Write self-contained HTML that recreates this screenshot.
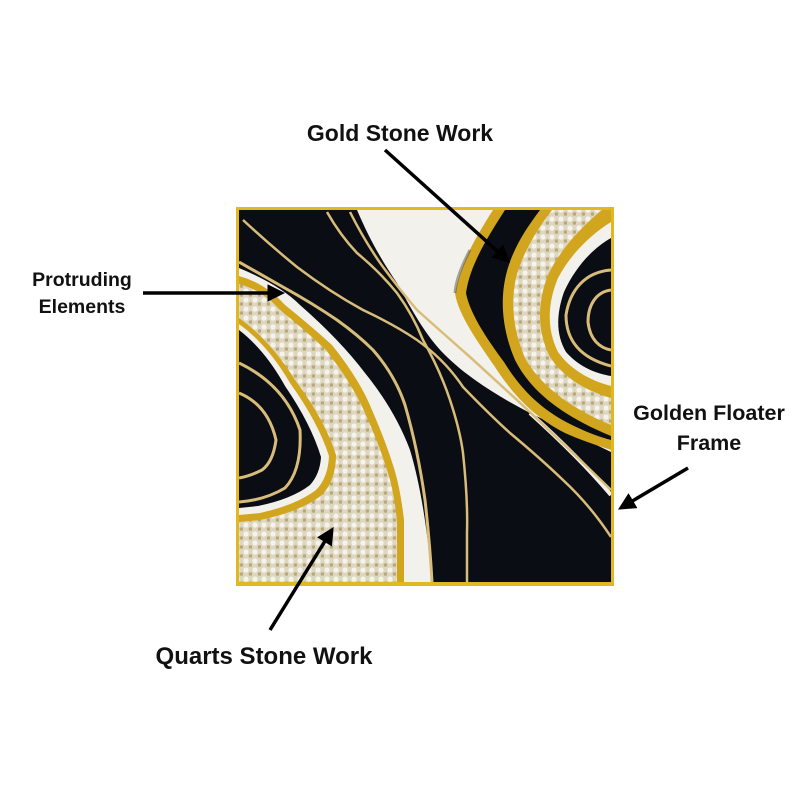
<!DOCTYPE html>
<html><head><meta charset="utf-8"><style>
html,body{margin:0;padding:0;background:#fff;width:800px;height:800px;overflow:hidden}
svg text{font-family:"Liberation Sans",sans-serif;font-weight:bold;fill:#111}
</style></head><body>
<svg width="800" height="800" viewBox="0 0 800 800" xmlns="http://www.w3.org/2000/svg">
<defs>
<marker id="ah" markerWidth="5" markerHeight="5" refX="3" refY="2.5" orient="auto" markerUnits="strokeWidth">
<path d="M0,0 L5,2.5 L0,5 Z" fill="#000"/></marker>
<pattern id="qz" width="9" height="9" patternUnits="userSpaceOnUse">
<rect width="9" height="9" fill="#ddd6c0"/><circle cx="3" cy="3" r="2.6" fill="#f6f3ea"/><circle cx="7.5" cy="7" r="1.8" fill="#b9a878"/></pattern>
<clipPath id="cp"><rect x="239" y="210" width="372" height="372"/></clipPath>
</defs>
<rect x="236" y="207" width="378" height="379" fill="#e0b820"/>
<rect x="239" y="210" width="372" height="372" fill="#0a0d14"/>
<g clip-path="url(#cp)">
<!-- top white stripe -->
<path d="M357,210 C372,245 385,265 397,283 C412,310 425,335 445,355 C465,375 495,395 530,413 L611,452 L611,210 Z" fill="#f3f1ec"/>
<path d="M530,413 C560,440 590,470 611,495" fill="none" stroke="#f3f1ec" stroke-width="4"/>
<!-- right nested bands -->
<path d="M493,210 C475,238 460,265 455,293 C458,315 480,345 495,367 C510,390 530,415 565,433 C585,442 600,446 611,450 L611,210 Z" fill="#d2a51e"/>
<path d="M505,210 C487,238 470,265 466,293 C470,315 490,343 504,362 C518,385 538,408 570,424 C588,433 600,437 611,440 L611,210 Z" fill="#0a0d14"/>
<path d="M540,210 C525,230 512,250 506,275 C500,300 502,330 515,360 C530,390 560,415 611,436 L611,210 Z" fill="#d2a51e"/>
<path d="M552,210 C535,232 522,255 516,278 C510,305 514,332 525,358 C540,385 570,408 611,425 L611,210 Z" fill="url(#qz)"/>
<path d="M602,210 C580,228 560,250 548,275 C538,300 536,330 550,357 C565,380 590,392 611,398 L611,210 Z" fill="#d2a51e"/>
<path d="M611,222 C590,235 570,255 558,278 C548,302 546,328 558,352 C572,372 595,382 611,386 Z" fill="#f3f1ec"/>
<path d="M611,238 C590,250 574,270 564,292 C556,315 556,335 566,352 C580,368 598,374 611,376 Z" fill="#0a0d14"/>
<path d="M611,270 C585,272 570,290 566,315 C566,340 580,358 611,366" fill="none" stroke="#d8bc7a" stroke-width="3"/>
<path d="M611,290 C596,292 588,305 588,322 C590,340 600,348 611,350" fill="none" stroke="#d8bc7a" stroke-width="3"/>
<path d="M470,250 C462,265 456,280 455,293" fill="none" stroke="#555" stroke-width="3" opacity="0.5"/>
<!-- left white band -->
<path d="M239,268 Q280,285 300,305 Q340,340 365,373 Q395,410 410,450 Q425,500 432,582 L239,582 Z" fill="#f3f1ec"/>
<!-- left quartz -->
<path d="M239,276 Q265,283 285,305 Q310,325 332,345 Q360,380 372,410 Q385,440 392,462 Q400,485 404,520 L404,590 L239,590 Z" fill="#d2a51e"/>
<path d="M239,284 Q262,290 280,310 Q305,330 326,350 Q353,385 365,413 Q378,442 385,464 Q394,488 397,522 L397,590 L239,590 Z" fill="url(#qz)"/>
<!-- left black pocket with gold edge -->
<path d="M239,318 Q270,340 295,380 Q325,420 336,455 Q336,480 322,495 Q300,512 260,520 L239,522 Z" fill="#d2a51e"/>
<path d="M239,324 Q268,345 290,383 Q318,422 329,456 Q328,478 316,490 Q296,505 260,513 L239,515 Z" fill="#f3f1ec"/>
<path d="M239,330 Q265,350 285,386 Q311,424 321,457 Q320,474 310,485 Q292,499 258,506 L239,508 Z" fill="#0a0d14"/>
<path d="M239,363 Q285,385 300,430 Q302,470 285,488 Q265,500 239,502" fill="none" stroke="#d8bc7a" stroke-width="3"/>
<path d="M239,393 Q268,405 276,440 Q273,462 262,470 Q250,476 239,478" fill="none" stroke="#d8bc7a" stroke-width="3"/>
<!-- gold lines -->
<path d="M243,220 Q270,245 297,267 Q330,292 363,310 Q395,325 417,340 Q445,360 463,387 Q490,415 510,433 Q540,458 563,480 Q590,505 611,537" fill="none" stroke="#d8bc7a" stroke-width="2.5"/>
<path d="M327,212 Q340,235 357,253 Q380,272 397,293 Q413,315 423,340 Q440,370 450,400 Q460,430 463,453 Q468,500 467,533 L467,582" fill="none" stroke="#d8bc7a" stroke-width="2.5"/>
<path d="M350,212 Q365,242 383,267 Q400,290 417,310 Q445,335 470,357 Q495,380 517,400 Q565,445 611,490" fill="none" stroke="#d8bc7a" stroke-width="2.5"/>
<path d="M239,262 Q262,275 283,287 Q312,303 337,320 Q358,335 373,350 Q395,375 405,405 Q418,450 425,500 Q430,545 432,582" fill="none" stroke="#d8bc7a" stroke-width="3"/>
</g>
<!-- labels -->
<text x="400" y="141" font-size="23" text-anchor="middle">Gold Stone Work</text>
<line x1="385" y1="150" x2="505" y2="258" stroke="#000" stroke-width="3.5" marker-end="url(#ah)"/>
<text x="82" y="286" font-size="19.5" text-anchor="middle">Protruding</text>
<text x="82" y="313" font-size="19.5" text-anchor="middle">Elements</text>
<line x1="143" y1="293" x2="278" y2="293" stroke="#000" stroke-width="3.5" marker-end="url(#ah)"/>
<text x="709" y="420" font-size="21.5" text-anchor="middle">Golden Floater</text>
<text x="709" y="450" font-size="21.5" text-anchor="middle">Frame</text>
<line x1="688" y1="468" x2="624" y2="506" stroke="#000" stroke-width="3.5" marker-end="url(#ah)"/>
<text x="264" y="664" font-size="24" text-anchor="middle">Quarts Stone Work</text>
<line x1="270" y1="630" x2="330" y2="533" stroke="#000" stroke-width="3.5" marker-end="url(#ah)"/>
</svg>
</body></html>
